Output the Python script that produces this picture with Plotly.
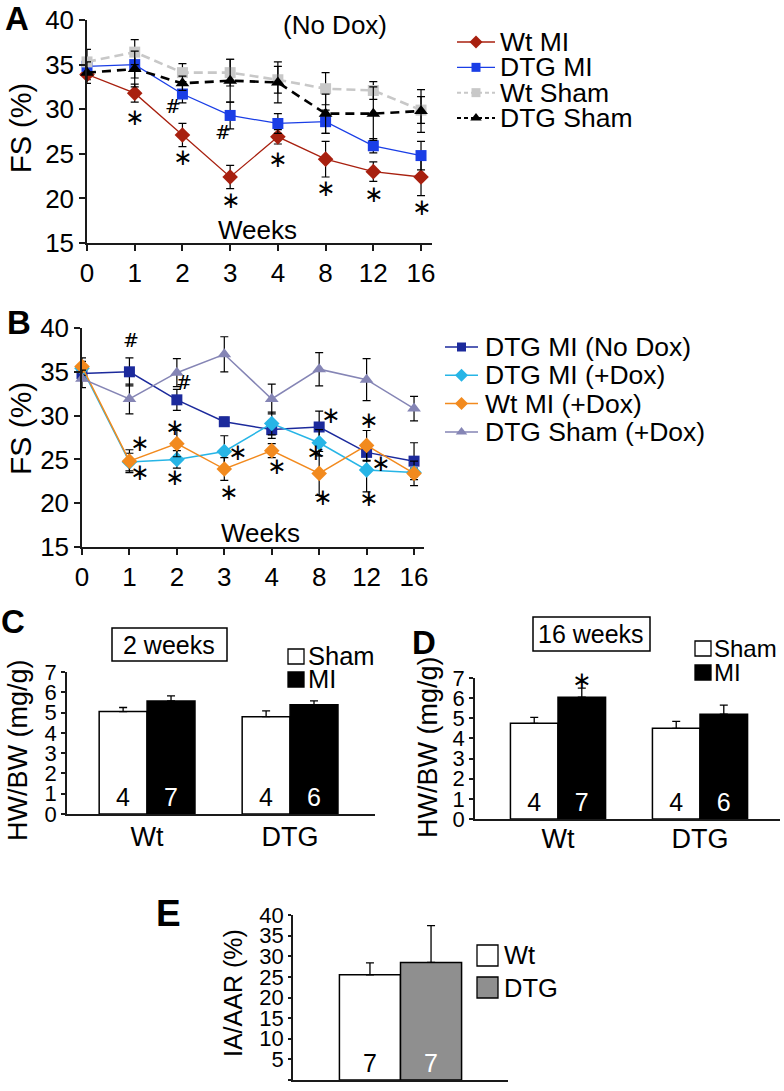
import plotly.graph_objects as go

W, H = 784, 1091
FONT = "Liberation Sans, Arial, sans-serif"

# ---------------- data ----------------
weeks = ["0", "1", "2", "3", "4", "8", "12", "16"]

# Panel A (No Dox)
a_wt_mi = [33.9, 31.8, 27.1, 22.4, 26.9, 24.4, 23.0, 22.4]
a_wt_mi_err = [0.6, 1.0, 1.3, 1.3, 0.8, 2.0, 1.1, 2.1]
a_dtg_mi = [34.8, 35.0, 31.7, 29.3, 28.4, 28.6, 25.9, 24.8]
a_dtg_mi_err = [0.8, 1.5, 1.0, 1.5, 1.1, 1.3, 0.8, 1.6]
a_wt_sham = [35.3, 36.4, 34.1, 34.1, 33.3, 32.3, 32.1, 29.9]
a_wt_sham_err = [1.4, 1.4, 1.0, 1.5, 1.5, 1.8, 1.0, 1.5]
a_dtg_sham = [34.1, 34.5, 32.9, 33.2, 33.0, 29.5, 29.5, 29.8]
a_dtg_sham_err = [1.2, 2.0, 0.8, 2.4, 2.3, 2.2, 3.0, 2.4]

# Panel B
b_dtg_mi_nodox = [34.8, 35.0, 31.8, 29.3, 28.4, 28.7, 25.8, 24.8]
b_dtg_mi_nodox_err = [0.8, 1.6, 1.2, 0.5, 1.0, 1.8, 1.0, 2.1]
b_dtg_mi_dox = [35.4, 24.7, 25.0, 25.9, 29.1, 26.9, 23.8, 23.5]
b_dtg_mi_dox_err = [0.8, 1.0, 1.0, 1.8, 1.3, 1.5, 2.5, 0.5]
b_wt_mi_dox = [35.6, 24.8, 26.8, 23.9, 26.0, 23.4, 26.6, 23.4]
b_wt_mi_dox_err = [1.0, 1.3, 1.5, 1.3, 0.8, 2.5, 1.7, 1.4]
b_dtg_sham_dox = [34.2, 31.9, 34.9, 37.0, 31.9, 35.3, 34.1, 30.8]
b_dtg_sham_dox_err = [1.0, 1.7, 1.6, 2.0, 1.7, 1.9, 2.4, 1.4]

# Panels C and D (HW/BW, mg/g)
genotypes = ["Wt", "DTG"]
c_sham = [5.05, 4.8]
c_sham_err = [0.2, 0.28]
c_mi = [5.57, 5.38]
c_mi_err = [0.25, 0.2]
c_n_sham = [4, 4]
c_n_mi = [7, 6]

d_sham = [4.75, 4.5]
d_sham_err = [0.3, 0.35]
d_mi = [6.05, 5.2]
d_mi_err = [0.45, 0.45]
d_n_sham = [4, 4]
d_n_mi = [7, 6]

# Panel E (IA/AAR, %)
e_groups = ["Wt", "DTG"]
e_vals = [25.5, 28.5]
e_err = [2.9, 8.9]
e_n = [7, 7]

# significance marks (x = week index, y = FS value)
a_stars = [(1, 29.1), (2, 24.6), (3, 19.8), (4, 24.4), (5, 21.2), (6, 20.5), (7, 19.0)]
a_hash = [(1.8, 30.4), (2.85, 27.4)]
b_stars = [(1.22, 26.9), (1.22, 23.6), (1.96, 28.7), (1.96, 23.0), (3.27, 25.8), (3.08, 21.3),
           (4.09, 24.2), (5.23, 30.1), (4.92, 25.8), (5.06, 20.7), (6.03, 29.5), (6.29, 24.6),
           (6.03, 20.6), (7.3, 26.4), (7.3, 24.2), (7.3, 21.7)]
b_hash = [(1.03, 38.6), (2.15, 33.8)]

# ---------------- helpers (page pixel -> paper fraction) ----------------
def PX(x):
    return min(1.0, max(0.0, x / W))


def PY(y):
    return min(1.0, max(0.0, 1 - y / H))


xi = list(range(len(weeks)))
fig = go.Figure()


def series(name, y, err, color, symbol, size, dash, width, xa, ya):
    fig.add_trace(go.Scatter(
        x=xi, y=y, name=name, mode="lines+markers",
        line=dict(color=color, width=width, dash=dash),
        marker=dict(symbol=symbol, size=size, color=color),
        error_y=dict(type="data", array=err, color="black", thickness=1.2, width=4),
        xaxis=xa, yaxis=ya, cliponaxis=False, showlegend=False))


# Panel A
a_specs = [
    ("Wt MI", a_wt_mi, a_wt_mi_err, "#a8200f", "diamond", 12, "solid", 1.3),
    ("DTG MI", a_dtg_mi, a_dtg_mi_err, "#1a3ee6", "square", 11, "solid", 1.3),
    ("Wt Sham", a_wt_sham, a_wt_sham_err, "#c8c8c8", "square", 11, "9px,5px", 2.6),
    ("DTG Sham", a_dtg_sham, a_dtg_sham_err, "#000000", "triangle-up", 12, "9px,6px", 2.6),
]
for s in a_specs:
    series(*s, "x", "y")

# Panel B
b_specs = [
    ("DTG MI (No Dox)", b_dtg_mi_nodox, b_dtg_mi_nodox_err, "#1c2a9c", "square", 11, "solid", 1.5),
    ("DTG MI (+Dox)", b_dtg_mi_dox, b_dtg_mi_dox_err, "#27b5e6", "diamond", 12, "solid", 1.5),
    ("Wt MI (+Dox)", b_wt_mi_dox, b_wt_mi_dox_err, "#f28a1e", "diamond", 12, "solid", 1.5),
    ("DTG Sham (+Dox)", b_dtg_sham_dox, b_dtg_sham_dox_err, "#8585b5", "triangle-up", 12, "solid", 1.5),
]
for s in b_specs:
    series(*s, "x2", "y2")

annotations = []


def legend_block(specs, xa, ya, text_x, fsize, legdash):
    for i, (name, _y, _e, color, symbol, size, dash, width) in enumerate(specs):
        d = legdash.get(name, "solid")
        fig.add_trace(go.Scatter(x=[0, 1], y=[i, i], mode="lines",
                                 line=dict(color=color, width=min(width, 2.0), dash=d),
                                 xaxis=xa, yaxis=ya, showlegend=False, hoverinfo="skip"))
        fig.add_trace(go.Scatter(x=[0.5], y=[i], mode="markers",
                                 marker=dict(symbol=symbol, size=size - 2, color=color),
                                 xaxis=xa, yaxis=ya, showlegend=False, hoverinfo="skip",
                                 cliponaxis=False))
        annotations.append(dict(text=name, x=PX(text_x), xref="paper", y=i, yref=ya,
                                xanchor="left", yanchor="middle", showarrow=False,
                                font=dict(size=fsize, color="black", family=FONT)))


legend_block(a_specs, "x6", "y6", 498, 26.5, {"Wt Sham": "4px,3px", "DTG Sham": "4px,3px"})
legend_block(b_specs, "x7", "y7", 483, 26.5, {})

# Panels C, D bars
bar_line = dict(color="black", width=1.5)


def bar_pair(sham, sham_err, n_sham, mi, mi_err, n_mi, xa, ya):
    fig.add_trace(go.Bar(x=[0, 1], y=sham, name="Sham", marker=dict(color="white", line=bar_line),
                         error_y=dict(type="data", array=sham_err, arrayminus=[0, 0], color="black",
                                      thickness=1.3, width=4),
                         text=[str(v) for v in n_sham], textposition="inside", insidetextanchor="start",
                         textfont=dict(color="black", size=25, family=FONT), textangle=0,
                         xaxis=xa, yaxis=ya, showlegend=False))
    fig.add_trace(go.Bar(x=[0, 1], y=mi, name="MI", marker=dict(color="black", line=bar_line),
                         error_y=dict(type="data", array=mi_err, arrayminus=[0, 0], color="black",
                                      thickness=1.3, width=4),
                         text=[str(v) for v in n_mi], textposition="inside", insidetextanchor="start",
                         textfont=dict(color="white", size=25, family=FONT), textangle=0,
                         xaxis=xa, yaxis=ya, showlegend=False))


bar_pair(c_sham, c_sham_err, c_n_sham, c_mi, c_mi_err, c_n_mi, "x3", "y3")
bar_pair(d_sham, d_sham_err, d_n_sham, d_mi, d_mi_err, d_n_mi, "x4", "y4")

# Panel E
fig.add_trace(go.Bar(x=[0, 1], y=e_vals, width=[1, 1],
                     marker=dict(color=["white", "#8f8f8f"], line=bar_line),
                     error_y=dict(type="data", array=e_err, arrayminus=[0, 0], color="black",
                                  thickness=1.3, width=4),
                     text=[str(v) for v in e_n], textposition="inside", insidetextanchor="start",
                     textfont=dict(color=["black", "white"], size=25, family=FONT), textangle=0,
                     xaxis="x5", yaxis="y5", showlegend=False))

# ---------------- axes ----------------
AX = dict(showline=True, linecolor="#1a1a1a", linewidth=1.5, showgrid=False, zeroline=False,
          ticks="outside", tickcolor="#1a1a1a", tickwidth=1.5, fixedrange=True, automargin=False)
HID = dict(visible=False, fixedrange=True, automargin=False)


def TF(size):
    return dict(family=FONT, color="black", size=size)


d_left, d_right = 475, 780
d_unit = 142.0
layout_axes = dict(
    xaxis=dict(AX, domain=[PX(87), PX(432)], range=[0, 7.23], tickvals=xi, ticktext=weeks,
               ticklen=6, tickfont=TF(26), anchor="y"),
    yaxis=dict(AX, domain=[PY(243), PY(20)], range=[15, 40], dtick=5, ticklen=6,
               tickfont=TF(26), anchor="x"),
    xaxis2=dict(AX, domain=[PX(82), PX(424)], range=[0, 7.21], tickvals=xi, ticktext=weeks,
                ticklen=6, tickfont=TF(26), anchor="y2"),
    yaxis2=dict(AX, domain=[PY(547), PY(328)], range=[15, 40], dtick=5, ticklen=6,
                tickfont=TF(26), anchor="x2"),
    xaxis3=dict(AX, domain=[PX(67), PX(375)], range=[-0.56, 1.594], tickvals=[0, 1],
                ticktext=genotypes, ticks="", tickfont=TF(27), anchor="y3", ticklabelstandoff=-2),
    yaxis3=dict(AX, domain=[PY(814), PY(672)], range=[0, 7], dtick=1, ticklen=4,
                tickfont=TF(22), anchor="x3"),
    xaxis4=dict(AX, domain=[PX(d_left), PX(d_right)],
                range=[(d_left - 558) / d_unit, 1 + (d_right - 700) / d_unit], tickvals=[0, 1],
                ticktext=genotypes, ticks="", tickfont=TF(27), anchor="y4", ticklabelstandoff=-5),
    yaxis4=dict(AX, domain=[PY(819), PY(678)], range=[0, 7], dtick=1, ticklen=4,
                tickfont=TF(22), anchor="x4"),
    xaxis5=dict(AX, domain=[PX(293), PX(508)], range=[-1.26, 2.26], showticklabels=False,
                ticks="", anchor="y5"),
    yaxis5=dict(AX, domain=[PY(1080), PY(915)], range=[0, 40], dtick=5, ticklen=3,
                tickfont=TF(22), anchor="x5"),
    xaxis6=dict(HID, domain=[PX(457), PX(495)], range=[0, 1], anchor="y6"),
    yaxis6=dict(HID, domain=[PY(130), PY(30)], range=[3.474, -0.474], anchor="x6"),
    xaxis7=dict(HID, domain=[PX(445), PX(478)], range=[0, 1], anchor="y7"),
    yaxis7=dict(HID, domain=[PY(445), PY(335)], range=[3.463, -0.424], anchor="x7"),
)


def ann(text, x, y, size, xref="paper", yref="paper", bold=False, angle=0, color="black",
        xanchor="center", yanchor="middle", family=FONT, yshift=0):
    annotations.append(dict(text=("<b>%s</b>" % text) if bold else text, x=x, y=y, xref=xref, yref=yref,
                            showarrow=False, textangle=angle, xanchor=xanchor, yanchor=yanchor,
                            yshift=yshift, font=dict(size=size, color=color, family=family)))


# panel letters
ann("A", PX(17), PY(18), 33, bold=True)
ann("B", PX(19), PY(322), 33, bold=True)
ann("C", PX(13), PY(621), 33, bold=True)
ann("D", PX(424), PY(642), 33, bold=True)
ann("E", PX(168), PY(913), 37, bold=True)

# axis titles
ann("FS (%)", PX(21), PY(128), 29, angle=-90)
ann("FS (%)", PX(20), PY(429), 30, angle=-90)
ann("HW/BW (mg/g)", PX(18), PY(750), 27, angle=-90)
ann("HW/BW (mg/g)", PX(428), PY(747), 27, angle=-90)
ann("IA/AAR (%)", PX(233), PY(993), 25, angle=-90)

# in-plot labels
ann("(No Dox)", PX(335), PY(25), 26)
ann("Weeks", 3.58, 16.45, 26, xref="x", yref="y")
ann("Weeks", 3.76, 16.6, 26, xref="x2", yref="y2")

STAR = "∗"
for (x, y) in a_stars:
    ann(STAR, x, y, 23, xref="x", yref="y", family="DejaVu Sans")
for (x, y) in a_hash:
    ann("#", x, y, 19, xref="x", yref="y", family="DejaVu Serif")
for (x, y) in b_stars:
    ann(STAR, x, y, 23, xref="x2", yref="y2", family="DejaVu Sans")
for (x, y) in b_hash:
    ann("#", x, y, 19, xref="x2", yref="y2", family="DejaVu Serif")
ann(STAR, 0.1675, 6.9, 23, xref="x4", yref="y4", family="DejaVu Sans")

# boxed time labels
ann("2 weeks", PX(169), PY(645), 25)
ann("16 weeks", PX(591), PY(634), 25)
shapes = [
    dict(type="rect", xref="paper", yref="paper", x0=PX(112), x1=PX(227), y0=PY(661), y1=PY(628),
         line=dict(color="black", width=1.5)),
    dict(type="rect", xref="paper", yref="paper", x0=PX(533), x1=PX(650), y0=PY(651), y1=PY(617),
         line=dict(color="black", width=1.5)),
]


# legends for bar panels
def sq(x0, y0, x1, y1, fill):
    shapes.append(dict(type="rect", xref="paper", yref="paper", x0=PX(x0), x1=PX(x1), y0=PY(y1), y1=PY(y0),
                       fillcolor=fill, line=dict(color="black", width=1.3)))


sq(288, 649, 304, 664, "white"); ann("Sham", PX(306), PY(656), 25.5, xanchor="left")
sq(288, 672, 304, 687, "black"); ann("MI", PX(306), PY(679), 25.5, xanchor="left")
sq(695, 641, 711, 656, "white"); ann("Sham", PX(712), PY(648), 24, xanchor="left")
sq(695, 665, 711, 680, "black"); ann("MI", PX(712), PY(672), 24, xanchor="left")
sq(477, 945, 498, 966, "white"); ann("Wt", PX(502), PY(955), 25.5, xanchor="left")
sq(477, 977, 498, 998, "#8f8f8f"); ann("DTG", PX(502), PY(988), 25.5, xanchor="left")

fig.update_layout(
    template="none",
    width=W, height=H, autosize=False, margin=dict(l=0, r=0, t=0, b=0, pad=0),
    paper_bgcolor="white", plot_bgcolor="white",
    font=dict(family=FONT, color="black"),
    barmode="group", bargap=0.33, bargroupgap=0,
    showlegend=False, annotations=annotations, shapes=shapes,
    **layout_axes,
)

# remove the browser's default 8px body margin so the 784x1091 figure fills the page exactly
fig.write_html("out.html",
               config={"displayModeBar": False},
               post_script="document.body.style.margin='0px';"
                           "document.body.style.overflow='hidden';"
                           "document.documentElement.style.overflow='hidden';")
